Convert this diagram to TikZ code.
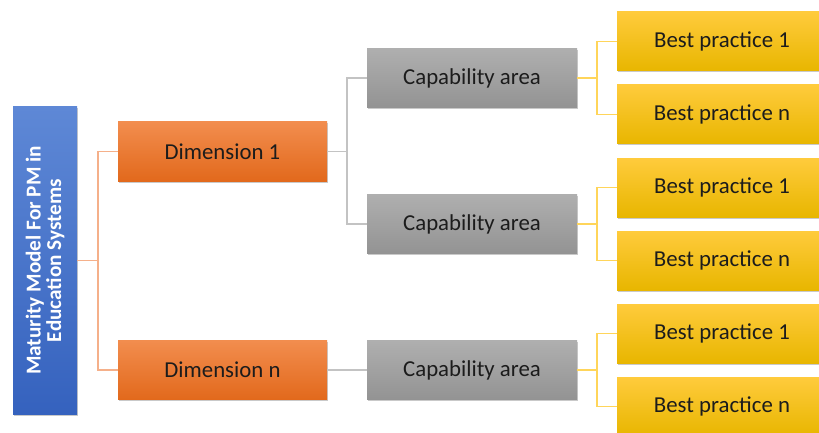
\documentclass[tikz,border=0pt]{standalone}
\usepackage{fontspec}
\setmainfont{Carlito}
\usetikzlibrary{shadows}
\definecolor{blueTop}{HTML}{5E88D6}
\definecolor{blueBot}{HTML}{3562BE}
\definecolor{orTop}{HTML}{F28D4E}
\definecolor{orBot}{HTML}{E2691C}
\definecolor{grTop}{HTML}{AFAFAF}
\definecolor{grBot}{HTML}{939393}
\definecolor{yeTop}{HTML}{FFCB3C}
\definecolor{yeBot}{HTML}{E8B600}
\definecolor{orLine}{HTML}{F5B08A}
\definecolor{grLine}{HTML}{C3C3C3}
\definecolor{yeLine}{HTML}{FFD55A}
\definecolor{txt}{HTML}{1C1C1C}
\tikzset{
  box/.style={rectangle, inner sep=0pt, text=txt, font=\fontsize{22.8}{24}\selectfont,
    drop shadow={shadow xshift=1.2pt, shadow yshift=-1.5pt, opacity=0.35, fill=black!60}},
  rootbox/.style={box, minimum width=64pt, minimum height=307pt, top color=blueTop, bottom color=blueBot},
  dimbox/.style={box, minimum width=209pt, minimum height=59pt, top color=orTop, bottom color=orBot},
  capbox/.style={box, minimum width=210pt, minimum height=59pt, top color=grTop, bottom color=grBot},
  bpbox/.style={box, minimum width=210pt, minimum height=59pt, top color=yeTop, bottom color=yeBot},
  link/.style={line width=1.3pt},
}
\begin{document}
\begin{tikzpicture}[x=1pt, y=-1pt]
\clip (0,0) rectangle (819,433);
\fill[white] (0,0) rectangle (819,433);

% junction points of the elbow connectors
\coordinate (rj) at (98,260.5);
\coordinate (dj) at (347,151.5);
\coordinate (c1) at (597,78);
\coordinate (c2) at (597,224);
\coordinate (c3) at (597,370);

% root
\node[rootbox] (root) at (45,260.5) {};
\node[rotate=90, text=white, font=\bfseries\fontsize{21.2}{20.5}\selectfont, align=center] (rootlabel) at (root.center)
  {Maturity Model For PM in\\Education Systems};

% dimensions
\node[dimbox] (dim1) at (222.5,151.5) {Dimension 1};
\node[dimbox] (dimn) at (222.5,370) {Dimension n};

% capability areas
\node[capbox] (cap1) at (472,78) {Capability area};
\node[capbox] (cap2) at (472,224) {Capability area};
\node[capbox] (cap3) at (472,370) {Capability area};

% best practices
\node[bpbox] (bp1) at (722,41.5) {Best practice 1};
\node[bpbox] (bp2) at (722,114.5) {Best practice n};
\node[bpbox] (bp3) at (722,187.5) {Best practice 1};
\node[bpbox] (bp4) at (722,260.5) {Best practice n};
\node[bpbox] (bp5) at (722,333.5) {Best practice 1};
\node[bpbox] (bp6) at (722,406.5) {Best practice n};

\draw[link, orLine] (root.east) -- (rj);
\draw[link, orLine] (rj) |- (dim1.west);
\draw[link, orLine] (rj) |- (dimn.west);

\draw[link, grLine] (dim1.east) -- (dj);
\draw[link, grLine] (dj) |- (cap1.west);
\draw[link, grLine] (dj) |- (cap2.west);
\draw[link, grLine] (dimn.east) -- (cap3.west);

\draw[link, yeLine] (cap1.east) -- (c1);
\draw[link, yeLine] (c1) |- (bp1.west);
\draw[link, yeLine] (c1) |- (bp2.west);
\draw[link, yeLine] (cap2.east) -- (c2);
\draw[link, yeLine] (c2) |- (bp3.west);
\draw[link, yeLine] (c2) |- (bp4.west);
\draw[link, yeLine] (cap3.east) -- (c3);
\draw[link, yeLine] (c3) |- (bp5.west);
\draw[link, yeLine] (c3) |- (bp6.west);
\end{tikzpicture}
\end{document}
